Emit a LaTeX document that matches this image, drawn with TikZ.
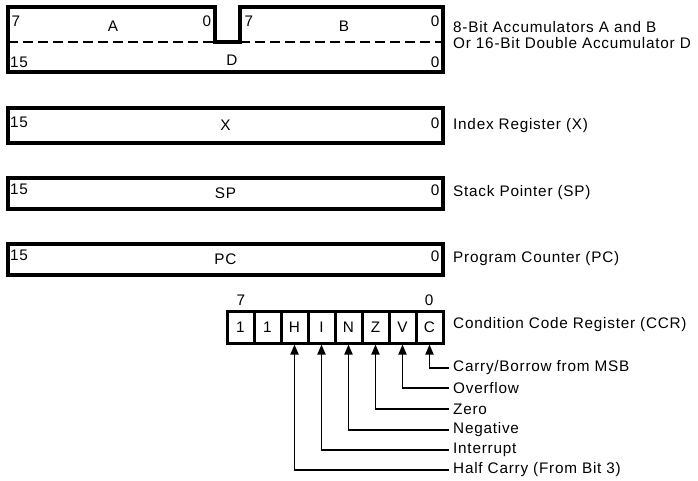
\documentclass[tikz,border=0pt]{standalone}
\usepackage{fontspec}
\setmainfont[LetterSpace=5]{Liberation Sans}
\usetikzlibrary{arrows.meta}
\begin{document}
\begin{tikzpicture}[x=1pt,y=-1pt,
  font=\fontsize{15.3}{17}\selectfont,
  reg/.style={draw,line width=3.2pt,minimum width=435pt,inner sep=0pt},
  cell/.style={draw,line width=3pt,minimum width=27pt,minimum height=32pt,inner sep=0pt},
  bit/.style={inner sep=1pt},
  lbl/.style={anchor=west,inner sep=0pt},
  flag/.style={line width=1.8pt,{Triangle[length=10pt,width=8pt]}-}]
\useasboundingbox (0,0) rectangle (698,481);
% Accumulators A, B, D
\draw[line width=3.2pt,line join=miter] (8,7) -- (215,7) -- (215,42) -- (240,42) -- (240,7) -- (443,7) -- (443,72) -- (8,72) -- cycle;
\draw[line width=1.8pt,dash pattern=on 10pt off 5pt] (8,42) -- (215,42);
\draw[line width=1.8pt,dash pattern=on 10pt off 5pt] (240,42) -- (443,42);
\node[bit] (a7) at (16,21) {7};
\node[bit] (aA) at (113,26) {A};
\node[bit] (a0) at (207,21) {0};
\node[bit] (b7) at (249,21) {7};
\node[bit] (bB) at (344,26) {B};
\node[bit] (b0) at (435,21) {0};
\node[bit] (d15) at (19,62) {15};
\node[bit] (dD) at (232,60) {D};
\node[bit] (d0) at (435,62) {0};
\node[lbl] (accl1) at (453,27) {8-Bit Accumulators A and B};
\node[lbl] (accl2) at (453,43) {Or 16-Bit Double Accumulator D};
% Index register
\node[reg,minimum height=35pt] (X) at (225.5,125.5) {X};
\node[bit] (x15) at (19,122) {15};
\node[bit] (x0) at (435,123) {0};
\node[lbl] (Xl) at (453,126) {Index Register (X)};
% Stack pointer
\node[reg,minimum height=31pt] (SP) at (225.5,193.5) {SP};
\node[bit] (sp15) at (19,189) {15};
\node[bit] (sp0) at (435,190) {0};
\node[lbl] (SPl) at (453,193) {Stack Pointer (SP)};
% Program counter
\node[reg,minimum height=31pt] (PC) at (225.5,259.5) {PC};
\node[bit] (pc15) at (19,255) {15};
\node[bit] (pc0) at (435,256) {0};
\node[lbl] (PCl) at (453,259) {Program Counter (PC)};
% CCR
\node[cell] (c7) at (240.5,327) {1};
\node[cell] (c6) at (267.5,327) {1};
\node[cell] (cH) at (294.5,327) {H};
\node[cell] (cI) at (321.5,327) {I};
\node[cell] (cN) at (348.5,327) {N};
\node[cell] (cZ) at (375.5,327) {Z};
\node[cell] (cV) at (402.5,327) {V};
\node[cell] (cC) at (429.5,327) {C};
\node[bit] (n7) at (241,300) {7};
\node[bit] (n0) at (429,300) {0};
\node[lbl] (CCRl) at (453,325) {Condition Code Register (CCR)};
\node[lbl] (lC) at (453,368) {Carry/Borrow from MSB};
\node[lbl] (lV) at (453,388) {Overflow};
\node[lbl] (lZ) at (453,409) {Zero};
\node[lbl] (lN) at (453,430) {Negative};
\node[lbl] (lI) at (453,450) {Interrupt};
\node[lbl] (lH) at (453,470) {Half Carry (From Bit 3)};
\draw[flag] (cC.south) |- ([xshift=-4pt]lC.west);
\draw[flag] (cV.south) |- ([xshift=-4pt]lV.west);
\draw[flag] (cZ.south) |- ([xshift=-4pt]lZ.west);
\draw[flag] (cN.south) |- ([xshift=-4pt]lN.west);
\draw[flag] (cI.south) |- ([xshift=-4pt]lI.west);
\draw[flag] (cH.south) |- ([xshift=-4pt]lH.west);
\end{tikzpicture}
\end{document}
